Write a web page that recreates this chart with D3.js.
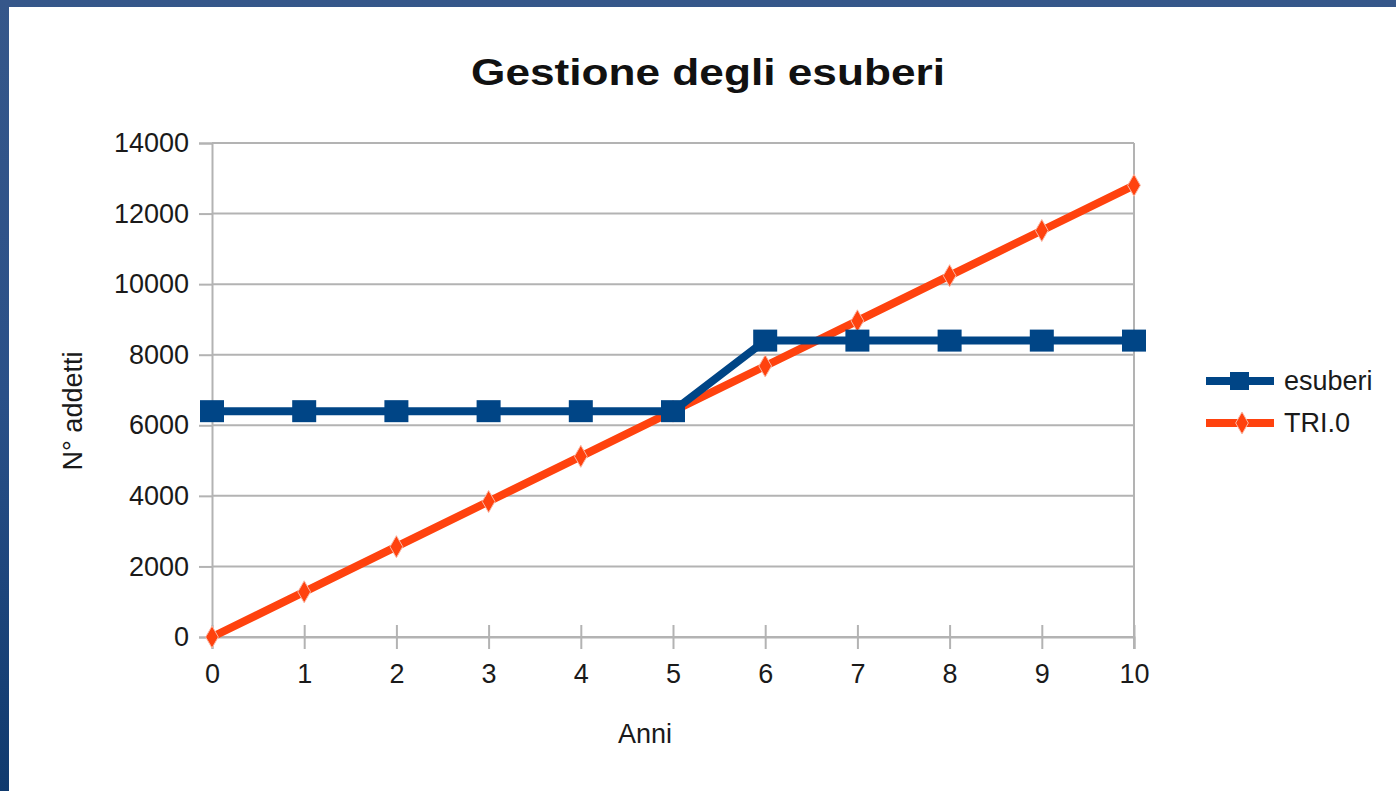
<!DOCTYPE html>
<html><head><meta charset="utf-8">
<script src="https://cdn.jsdelivr.net/npm/d3@7"></script>
<style>
html,body{margin:0;padding:0;}
body{width:1396px;height:791px;overflow:hidden;background:linear-gradient(180deg,#36578a 0%,#2a5088 50%,#103a6e 100%);}
svg{display:block;font-family:"Liberation Sans",Arial,sans-serif;}
</style></head>
<body>
<script>
const years = [0,1,2,3,4,5,6,7,8,9,10];
const esuberi = [6400,6400,6400,6400,6400,6400,8400,8400,8400,8400,8400];
const tri0 = [0,1280,2560,3840,5120,6400,7680,8960,10240,11520,12800];
const yTicks = [0,2000,4000,6000,8000,10000,12000,14000];
const seriesNames = ["esuberi","TRI.0"];
const colors = ["#004586","#ff420e"];

const W = 1396, H = 791;
const FS = 27;
const textCol = "#1a1a1a";
const svg = d3.select("body").append("svg").attr("width", W).attr("height", H);
svg.append("rect").attr("x",9).attr("y",7).attr("width",W-9).attr("height",H-7).attr("fill","#fff");

const x = d3.scaleLinear().domain([0,10]).range([212,1134]);
const y = d3.scaleLinear().domain([0,14000]).range([637,143]);

// grid
svg.append("g").selectAll("line").data(yTicks).join("line")
  .attr("x1",x(0)).attr("x2",x(10)).attr("y1",d=>y(d)).attr("y2",d=>y(d))
  .attr("stroke","#b3b3b3").attr("stroke-width",2);
// y axis
const yAxis = svg.append("g").attr("transform",`translate(${x(0)},0)`)
  .call(d3.axisLeft(y).tickValues(yTicks).tickFormat(d3.format("d")).tickSize(13).tickPadding(10));
yAxis.select(".domain").attr("stroke","#b3b3b3").attr("stroke-width",2);
yAxis.selectAll(".tick line").attr("stroke","#b3b3b3").attr("stroke-width",2);
yAxis.selectAll("text").attr("font-size",FS).attr("fill",textCol).attr("font-family","Liberation Sans, Arial, sans-serif");
// right frame
svg.append("line").attr("x1",x(10)).attr("x2",x(10)).attr("y1",y(14000)).attr("y2",y(0)+12)
  .attr("stroke","#b3b3b3").attr("stroke-width",2);
// x axis
const xAxis = svg.append("g").attr("transform",`translate(0,${y(0)})`)
  .call(d3.axisBottom(x).tickValues(years).tickFormat(d3.format("d")).tickSize(12).tickPadding(15));
xAxis.select(".domain").attr("stroke","#b3b3b3").attr("stroke-width",2);
xAxis.selectAll(".tick line").attr("y1",-12).attr("stroke","#b3b3b3").attr("stroke-width",2);
xAxis.selectAll("text").attr("font-size",FS).attr("fill",textCol).attr("font-family","Liberation Sans, Arial, sans-serif");

const line = d3.line().x((d,i)=>x(years[i])).y(d=>y(d));
const diamond = d3.symbol().type(d3.symbolDiamond).size(140);
// orange
svg.append("path").datum(tri0).attr("d",line).attr("fill","none").attr("stroke",colors[1]).attr("stroke-width",8).attr("stroke-linejoin","round");
svg.append("g").selectAll("path").data(tri0).join("path")
  .attr("transform",(d,i)=>`translate(${x(years[i])},${y(d)})`).attr("d",diamond)
  .attr("fill",colors[1]).attr("stroke","#f9b8a6").attr("stroke-width",1);
// blue
svg.append("path").datum(esuberi).attr("d",line).attr("fill","none").attr("stroke",colors[0]).attr("stroke-width",8).attr("stroke-linejoin","round");
svg.append("g").selectAll("rect").data(esuberi).join("rect")
  .attr("x",(d,i)=>x(years[i])-12).attr("y",d=>y(d)-11).attr("width",24).attr("height",22)
  .attr("fill",colors[0]);

// title
svg.append("text").attr("x",708).attr("y",85).attr("text-anchor","middle")
  .attr("font-size",37).attr("font-weight","bold").attr("fill","#111")
  .attr("textLength",474).attr("lengthAdjust","spacingAndGlyphs")
  .text("Gestione degli esuberi");
svg.append("text").attr("x",645).attr("y",743).attr("text-anchor","middle")
  .attr("font-size",FS).attr("fill",textCol).text("Anni");
svg.append("text").attr("transform","translate(82,411) rotate(-90)").attr("text-anchor","middle")
  .attr("font-size",FS).attr("fill",textCol).text("N° addetti");

// legend
const lg = svg.append("g");
const ly = [381,423];
seriesNames.forEach((n,i)=>{
  lg.append("line").attr("x1",1206).attr("x2",1274).attr("y1",ly[i]).attr("y2",ly[i])
    .attr("stroke",colors[i]).attr("stroke-width",8);
  if(i===0){
    lg.append("rect").attr("x",1230).attr("y",ly[i]-9).attr("width",19).attr("height",18).attr("fill",colors[0]);
  } else {
    lg.append("path").attr("transform",`translate(1242,${ly[i]})`).attr("d",diamond).attr("fill",colors[1]).attr("stroke","#f9b8a6");
  }
  lg.append("text").attr("x",1284).attr("y",ly[i]+9).attr("font-size",FS).attr("fill",textCol).text(n);
});
</script>
</body></html>
